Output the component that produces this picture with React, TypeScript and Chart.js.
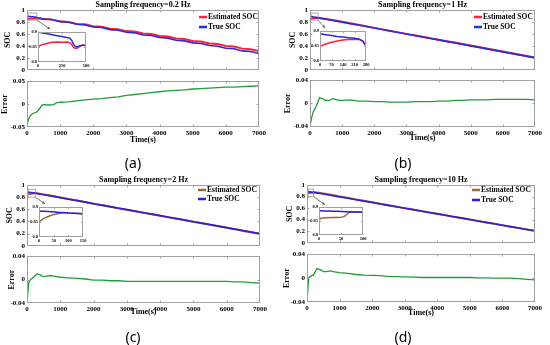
import React, { useEffect, useRef } from "react";
import { Chart, registerables } from "chart.js";
Chart.register(...registerables);

const SERIF = '"Liberation Serif", "Times New Roman", Times, serif';

// ---------------- DATA ----------------
const TIME_SOC = [0, 250, 500, 750, 1000, 1250, 1500, 1750, 2000, 2250, 2500, 2750, 3000, 3250, 3500, 3750, 4000, 4250, 4500, 4750, 5000, 5250, 5500, 5750, 6000, 6250, 6500, 6750, 7000];
const TIME_ERR = [0, 50, 100, 150, 200, 300, 400, 450, 500, 600, 700, 800, 900, 1000, 1250, 1500, 1750, 2000, 2250, 2500, 2750, 3000, 3250, 3500, 3750, 4000, 4250, 4500, 4750, 5000, 5250, 5500, 5750, 6000, 6250, 6500, 6750, 7000];
const TIME_TICKS = [0, 1000, 2000, 3000, 4000, 5000, 6000, 7000];

const SOC_TRUE_A = [0.895, 0.884, 0.850, 0.840, 0.806, 0.796, 0.761, 0.751, 0.717, 0.707, 0.672, 0.662, 0.628, 0.618, 0.583, 0.573, 0.539, 0.529, 0.494, 0.484, 0.450, 0.440, 0.405, 0.395, 0.361, 0.351, 0.316, 0.306, 0.272];
const SOC_EST_A = [0.850, 0.862, 0.850, 0.839, 0.810, 0.801, 0.768, 0.760, 0.728, 0.719, 0.686, 0.678, 0.647, 0.639, 0.606, 0.598, 0.566, 0.558, 0.524, 0.515, 0.483, 0.474, 0.440, 0.431, 0.398, 0.388, 0.354, 0.345, 0.312];
const ERR_A = [-0.046, -0.032, -0.026, -0.022, -0.020, -0.017, -0.008, -0.002, -0.001, -0.002, -0.002, -0.001, 0.003, 0.004, 0.005, 0.007, 0.009, 0.011, 0.012, 0.014, 0.016, 0.019, 0.021, 0.023, 0.025, 0.027, 0.029, 0.030, 0.031, 0.033, 0.034, 0.035, 0.036, 0.037, 0.037, 0.038, 0.039, 0.040];
const INSET_T_A = [0, 50, 100, 150, 200, 250, 300, 330, 350, 370, 390, 410, 430, 460, 500];
const INSET_TRUE_A = [0.899, 0.896, 0.893, 0.890, 0.887, 0.884, 0.881, 0.879, 0.872, 0.858, 0.851, 0.850, 0.853, 0.855, 0.855];
const INSET_EST_A = [0.851, 0.858, 0.862, 0.865, 0.866, 0.865, 0.866, 0.864, 0.858, 0.848, 0.845, 0.846, 0.851, 0.855, 0.855];

const SOC_TRUE_B = [0.895, 0.868, 0.846, 0.822, 0.797, 0.772, 0.748, 0.723, 0.698, 0.673, 0.648, 0.624, 0.599, 0.574, 0.549, 0.524, 0.500, 0.475, 0.450, 0.425, 0.400, 0.375, 0.350, 0.325, 0.300, 0.275, 0.250, 0.225, 0.200];
const SOC_EST_B = [0.855, 0.871, 0.851, 0.829, 0.802, 0.777, 0.752, 0.727, 0.701, 0.676, 0.650, 0.626, 0.601, 0.577, 0.552, 0.527, 0.504, 0.479, 0.455, 0.430, 0.406, 0.381, 0.356, 0.332, 0.307, 0.282, 0.257, 0.232, 0.206];
const ERR_B = [-0.040, -0.025, -0.015, -0.010, -0.004, 0.010, 0.008, 0.006, 0.005, 0.005, 0.008, 0.007, 0.005, 0.005, 0.006, 0.004, 0.004, 0.003, 0.003, 0.002, 0.002, 0.002, 0.003, 0.003, 0.003, 0.004, 0.004, 0.005, 0.005, 0.006, 0.006, 0.006, 0.007, 0.007, 0.007, 0.007, 0.007, 0.006];
const INSET_T_B = [0, 35, 70, 105, 140, 175, 210, 240, 260, 280];
const INSET_TRUE_B = [0.890, 0.887, 0.884, 0.881, 0.879, 0.877, 0.875, 0.872, 0.866, 0.851];
const INSET_EST_B = [0.848, 0.856, 0.862, 0.866, 0.869, 0.871, 0.872, 0.871, 0.866, 0.851];

const SOC_TRUE_C = [0.885, 0.866, 0.841, 0.817, 0.792, 0.767, 0.743, 0.718, 0.693, 0.669, 0.644, 0.619, 0.595, 0.570, 0.545, 0.521, 0.496, 0.471, 0.447, 0.422, 0.397, 0.373, 0.348, 0.323, 0.299, 0.274, 0.249, 0.225, 0.200];
const SOC_EST_C = [0.845, 0.870, 0.846, 0.822, 0.796, 0.770, 0.745, 0.719, 0.692, 0.668, 0.642, 0.617, 0.592, 0.567, 0.542, 0.518, 0.493, 0.468, 0.444, 0.419, 0.394, 0.370, 0.345, 0.320, 0.296, 0.270, 0.245, 0.220, 0.194];
const ERR_C = [-0.040, -0.006, 0.000, 0.002, 0.004, 0.010, 0.008, 0.006, 0.005, 0.006, 0.007, 0.006, 0.005, 0.004, 0.003, 0.002, 0.001, -0.001, -0.001, -0.002, -0.002, -0.003, -0.003, -0.003, -0.003, -0.003, -0.003, -0.003, -0.003, -0.003, -0.003, -0.003, -0.003, -0.003, -0.004, -0.004, -0.005, -0.006];
const INSET_T_C = [0, 10, 20, 30, 40, 50, 60, 70, 80, 90, 100, 120, 150];
const INSET_TRUE_C = [0.886, 0.885, 0.885, 0.884, 0.883, 0.883, 0.882, 0.881, 0.881, 0.880, 0.879, 0.878, 0.877];
const INSET_EST_C = [0.850, 0.857, 0.863, 0.867, 0.871, 0.874, 0.876, 0.878, 0.880, 0.880, 0.879, 0.878, 0.877];

const SOC_TRUE_D = [0.888, 0.868, 0.843, 0.819, 0.794, 0.770, 0.745, 0.721, 0.696, 0.672, 0.647, 0.623, 0.598, 0.574, 0.549, 0.525, 0.500, 0.476, 0.451, 0.427, 0.402, 0.378, 0.353, 0.329, 0.304, 0.280, 0.255, 0.231, 0.206];
const SOC_EST_D = [0.855, 0.874, 0.855, 0.831, 0.803, 0.778, 0.751, 0.726, 0.700, 0.675, 0.650, 0.625, 0.600, 0.575, 0.550, 0.526, 0.501, 0.477, 0.452, 0.428, 0.402, 0.378, 0.353, 0.329, 0.304, 0.279, 0.254, 0.229, 0.203];
const ERR_D = [-0.040, 0.000, 0.003, 0.004, 0.005, 0.016, 0.014, 0.013, 0.011, 0.011, 0.012, 0.011, 0.010, 0.009, 0.008, 0.006, 0.005, 0.0045, 0.004, 0.003, 0.0025, 0.002, 0.0015, 0.001, 0.001, 0.001, 0.001, 0.001, 0.001, 0.001, 0.0005, 0.0005, 0.000, 0.000, 0.000, -0.001, -0.002, -0.003];
const INSET_T_D = [0, 5, 10, 20, 30, 40, 50, 55, 60, 65, 70, 80, 90, 100];
const INSET_TRUE_D = [0.886, 0.886, 0.885, 0.885, 0.884, 0.884, 0.883, 0.883, 0.882, 0.882, 0.882, 0.881, 0.881, 0.880];
const INSET_EST_D = [0.855, 0.859, 0.860, 0.861, 0.862, 0.862, 0.863, 0.864, 0.868, 0.876, 0.881, 0.881, 0.881, 0.880];

const TITLES = ["Sampling frequency=0.2 Hz", "Sampling frequency=1 Hz", "Sampling frequency=2 Hz", "Sampling frequency=10 Hz"];
const PANEL_LABELS = ["(a)", "(b)", "(c)", "(d)"];
const LEGEND_LABELS = ["Estimated SOC", "True SOC"];
const ERR_LIMITS = [0.05, 0.04, 0.04, 0.04];
const INSET_MAX = [500, 280, 150, 100];
const INSET_STEP = [250, 70, 50, 50];
// zoom box [t0, t1, soc0, soc1] and arrow [tFrom, socFrom, tTo, socTo] in data units
const ZOOM_BOX = [[0, 300, 0.83, 0.95], [0, 250, 0.83, 0.95], [0, 250, 0.80, 0.93], [0, 200, 0.80, 0.93]];
const ZOOM_ARROW = [[300, 0.83, 700, 0.68], [250, 0.83, 470, 0.70], [250, 0.80, 540, 0.69], [200, 0.80, 550, 0.66]];

// ---------------- STYLE / LAYOUT ----------------
const RED = "#ff2040";
const BLUE = "#2b2bdc";
const BROWN = "#9a6a30";
const BLUE2 = "#3a1ad6";
const GREEN = "#1f9e3a";
const FRAME = "#a0a0a0";

type R = { x0: number; y0: number; x1: number; y1: number };
type M = { l: number; t: number; r: number; b: number };

const LAYOUT = [
  {
    soc: { x0: 27, y0: 10, x1: 259, y1: 71 }, socM: { l: 26, t: 10, r: 4, b: 5 },
    err: { x0: 27, y0: 80, x1: 259, y1: 127 }, errM: { l: 29, t: 5, r: 12, b: 19 },
    inset: { x0: 38, y0: 31, x1: 86, y1: 62 },
    legendDx: 51, legendDy: [7, 17], label: [133, 163],
    colors: [RED, BLUE],
  },
  {
    soc: { x0: 310, y0: 10, x1: 535, y1: 71 }, socM: { l: 24, t: 10, r: 4, b: 5 },
    err: { x0: 310, y0: 79, x1: 535, y1: 126 }, errM: { l: 29, t: 5, r: 12, b: 17.5 },
    inset: { x0: 320, y0: 30, x1: 366, y1: 61 },
    legendDx: 52, legendDy: [7, 17], label: [403, 163],
    colors: [RED, BLUE],
  },
  {
    soc: { x0: 27, y0: 185, x1: 260, y1: 247 }, socM: { l: 24, t: 10, r: 4, b: 5 },
    err: { x0: 27, y0: 255, x1: 260, y1: 303 }, errM: { l: 22, t: 5, r: 12, b: 15 },
    inset: { x0: 39, y0: 206, x1: 83, y1: 237 },
    legendDx: 53, legendDy: [5, 14], label: [133, 337],
    colors: [BROWN, BLUE2],
  },
  {
    soc: { x0: 307, y0: 185, x1: 535, y1: 244 }, socM: { l: 24, t: 10, r: 4, b: 5 },
    err: { x0: 307, y0: 253, x1: 535, y1: 302 }, errM: { l: 27, t: 5, r: 12, b: 17 },
    inset: { x0: 319, y0: 206, x1: 363, y1: 235 },
    legendDx: 54, legendDy: [5, 15], label: [403, 337],
    colors: [BROWN, BLUE2],
  },
];
const INSET_M: M = { l: 12, t: 3, r: 6, b: 7 };

const DATA = [
  { socT: SOC_TRUE_A, socE: SOC_EST_A, err: ERR_A, iT: INSET_T_A, iTrue: INSET_TRUE_A, iEst: INSET_EST_A },
  { socT: SOC_TRUE_B, socE: SOC_EST_B, err: ERR_B, iT: INSET_T_B, iTrue: INSET_TRUE_B, iEst: INSET_EST_B },
  { socT: SOC_TRUE_C, socE: SOC_EST_C, err: ERR_C, iT: INSET_T_C, iTrue: INSET_TRUE_C, iEst: INSET_EST_C },
  { socT: SOC_TRUE_D, socE: SOC_EST_D, err: ERR_D, iT: INSET_T_D, iTrue: INSET_TRUE_D, iEst: INSET_EST_D },
];

// ---------------- HELPERS ----------------
const fmt = (v: any) => String(Math.round(Number(v) * 1000) / 1000);
const pts = (xs: number[], ys: number[]) => xs.map((x, i) => ({ x, y: ys[i] }));
const font = (size: number) => ({ family: SERIF, size, weight: "bold" as const });
const NOGRID = { display: false, drawTicks: false, tickLength: 0 };

function framePlugin(tickLen: number) {
  return {
    id: "frame",
    afterDraw(chart: any) {
      const { ctx, chartArea: a } = chart;
      const L = Math.round(a.left) + 0.5, T = Math.round(a.top) + 0.5;
      const Rr = Math.round(a.right) - 0.5, B = Math.round(a.bottom) - 0.5;
      ctx.save();
      ctx.strokeStyle = FRAME;
      ctx.lineWidth = 1;
      ctx.strokeRect(L, T, Rr - L, B - T);
      ctx.beginPath();
      const xs = chart.scales.x, ys = chart.scales.y;
      xs.ticks.forEach((t: any) => {
        const p = Math.round(xs.getPixelForValue(t.value)) + 0.5;
        if (p <= L + 1 || p >= Rr - 1) return;
        ctx.moveTo(p, B); ctx.lineTo(p, B - tickLen);
        ctx.moveTo(p, T); ctx.lineTo(p, T + tickLen);
      });
      ys.ticks.forEach((t: any) => {
        const p = Math.round(ys.getPixelForValue(t.value)) + 0.5;
        if (p <= T + 1 || p >= B - 1) return;
        ctx.moveTo(L, p); ctx.lineTo(L + tickLen, p);
        ctx.moveTo(Rr, p); ctx.lineTo(Rr - tickLen, p);
      });
      ctx.stroke();
      ctx.restore();
    },
  };
}

const whiteBg = {
  id: "whiteBg",
  beforeDraw(chart: any) {
    const { ctx, chartArea: a } = chart;
    ctx.save();
    ctx.fillStyle = "#fff";
    ctx.fillRect(a.left, a.top, a.right - a.left, a.bottom - a.top);
    ctx.restore();
  },
};

function socDecor(i: number) {
  const lay = LAYOUT[i];
  return {
    id: "socDecor",
    afterDatasetsDraw(chart: any) {
      const { ctx, chartArea: a, scales } = chart;
      const x = scales.x, y = scales.y;
      ctx.save();
      // title
      ctx.fillStyle = "#000";
      ctx.font = `bold 8px ${SERIF}`;
      ctx.textAlign = "center";
      ctx.textBaseline = "middle";
      ctx.fillText(TITLES[i], (a.left + a.right) / 2, a.top - 5);
      // legend
      ctx.font = `bold 7.5px ${SERIF}`;
      ctx.textAlign = "left";
      const tx = a.right - lay.legendDx;
      LEGEND_LABELS.forEach((lab, k) => {
        const yy = a.top + lay.legendDy[k];
        ctx.strokeStyle = lay.colors[k];
        ctx.lineWidth = 2.5;
        ctx.beginPath();
        ctx.moveTo(tx - 9, yy);
        ctx.lineTo(tx - 1, yy);
        ctx.stroke();
        ctx.fillStyle = "#000";
        ctx.fillText(lab, tx, yy + 0.5);
      });
      // zoom box + arrow
      const [t0, t1, s0, s1] = ZOOM_BOX[i];
      ctx.strokeStyle = "#8a8a8a";
      ctx.lineWidth = 0.7;
      const bx0 = x.getPixelForValue(t0) + 1, bx1 = x.getPixelForValue(t1);
      const by0 = y.getPixelForValue(s1), by1 = y.getPixelForValue(s0);
      ctx.strokeRect(bx0, by0, bx1 - bx0, by1 - by0);
      const [ft, fs, tt, ts] = ZOOM_ARROW[i];
      const ax0 = x.getPixelForValue(ft), ay0 = y.getPixelForValue(fs);
      const ax1 = x.getPixelForValue(tt), ay1 = y.getPixelForValue(ts);
      ctx.strokeStyle = "#555";
      ctx.fillStyle = "#555";
      ctx.lineWidth = 0.8;
      ctx.beginPath();
      ctx.moveTo(ax0, ay0);
      ctx.lineTo(ax1, ay1);
      ctx.stroke();
      const ang = Math.atan2(ay1 - ay0, ax1 - ax0);
      const h = 3;
      ctx.beginPath();
      ctx.moveTo(ax1, ay1);
      ctx.lineTo(ax1 - h * Math.cos(ang - 0.45), ay1 - h * Math.sin(ang - 0.45));
      ctx.lineTo(ax1 - h * Math.cos(ang + 0.45), ay1 - h * Math.sin(ang + 0.45));
      ctx.closePath();
      ctx.fill();
      ctx.restore();
    },
  };
}

const baseOpts = (m: M) => ({
  animation: false,
  responsive: false,
  devicePixelRatio: 1,
  events: [],
  layout: { padding: { left: 0, top: m.t, right: m.r, bottom: 0 } },
  plugins: { legend: { display: false }, tooltip: { enabled: false }, title: { display: false } },
});

function socConfig(i: number): any {
  const d = DATA[i], lay = LAYOUT[i], m = lay.socM;
  return {
    type: "line",
    data: {
      datasets: [
        { label: LEGEND_LABELS[0], data: pts(TIME_SOC, d.socE), borderColor: lay.colors[0], borderWidth: 2, pointRadius: 0, tension: 0, order: 2 },
        { label: LEGEND_LABELS[1], data: pts(TIME_SOC, d.socT), borderColor: lay.colors[1], borderWidth: 1.6, pointRadius: 0, tension: 0, order: 1 },
      ],
    },
    options: {
      ...baseOpts(m),
      scales: {
        x: {
          type: "linear", min: 0, max: 7000,
          afterBuildTicks: (s: any) => { s.ticks = TIME_TICKS.map((v) => ({ value: v })); },
          ticks: { display: false },
          grid: NOGRID, border: { display: false },
          afterFit: (s: any) => { s.height = m.b; },
        },
        y: {
          type: "linear", min: 0, max: 1,
          ticks: { stepSize: 0.2, autoSkip: false, padding: 2, color: "#000", font: font(7), callback: fmt },
          grid: NOGRID, border: { display: false },
          title: { display: true, text: "SOC", color: "#000", font: font(8), padding: { top: 2, bottom: 0 } },
          afterFit: (s: any) => { s.width = m.l; },
        },
      },
    },
    plugins: [socDecor(i), framePlugin(2)],
  };
}

function errConfig(i: number): any {
  const d = DATA[i], m = LAYOUT[i].errM;
  const lim = ERR_LIMITS[i];
  return {
    type: "line",
    data: {
      datasets: [
        { label: "Error", data: pts(TIME_ERR, d.err), borderColor: GREEN, borderWidth: 1.3, pointRadius: 0, tension: 0 },
      ],
    },
    options: {
      ...baseOpts(m),
      scales: {
        x: {
          type: "linear", min: 0, max: 7000,
          afterBuildTicks: (s: any) => { s.ticks = TIME_TICKS.map((v) => ({ value: v })); },
          ticks: { autoSkip: false, maxRotation: 0, padding: 2, color: "#000", font: font(7), callback: fmt },
          grid: NOGRID, border: { display: false },
          title: { display: true, text: "Time(s)", color: "#000", font: font(8), padding: { top: 0, bottom: 1 } },
          afterFit: (s: any) => { s.height = m.b; },
        },
        y: {
          type: "linear", min: -lim, max: lim,
          afterBuildTicks: (s: any) => { s.ticks = [-lim, 0, lim].map((v) => ({ value: v })); },
          ticks: { autoSkip: false, padding: 2, color: "#000", font: font(7), callback: fmt },
          grid: NOGRID, border: { display: false },
          title: { display: true, text: "Error", color: "#000", font: font(8), padding: { top: 2, bottom: 0 } },
          afterFit: (s: any) => { s.width = m.l; },
        },
      },
    },
    plugins: [framePlugin(2)],
  };
}

function insetConfig(i: number): any {
  const d = DATA[i], lay = LAYOUT[i], m = INSET_M;
  const mx = INSET_MAX[i], st = INSET_STEP[i];
  const xt: number[] = [];
  for (let v = 0; v <= mx + 1e-9; v += st) xt.push(v);
  return {
    type: "line",
    data: {
      datasets: [
        { data: pts(d.iT, d.iEst), borderColor: lay.colors[0], borderWidth: 1.5, pointRadius: 0, tension: 0, order: 2 },
        { data: pts(d.iT, d.iTrue), borderColor: lay.colors[1], borderWidth: 1.5, pointRadius: 0, tension: 0, order: 1 },
      ],
    },
    options: {
      ...baseOpts(m),
      scales: {
        x: {
          type: "linear", min: 0, max: mx,
          afterBuildTicks: (s: any) => { s.ticks = xt.map((v) => ({ value: v })); },
          ticks: { autoSkip: false, maxRotation: 0, padding: 1, color: "#000", font: font(4.5), callback: fmt },
          grid: NOGRID, border: { display: false },
          afterFit: (s: any) => { s.height = m.b; },
        },
        y: {
          type: "linear", min: 0.8, max: 0.9,
          afterBuildTicks: (s: any) => { s.ticks = [0.8, 0.85, 0.9].map((v) => ({ value: v })); },
          ticks: { autoSkip: false, padding: 1, color: "#000", font: font(4.5), callback: fmt },
          grid: NOGRID, border: { display: false },
          afterFit: (s: any) => { s.width = m.l; },
        },
      },
    },
    plugins: [whiteBg, framePlugin(1.5)],
  };
}

// ---------------- COMPONENTS ----------------
function ChartCanvas({ rect, m, make }: { rect: R; m: M; make: () => any }) {
  const ref = useRef<HTMLCanvasElement>(null);
  const left = rect.x0 - m.l;
  const top = rect.y0 - m.t;
  const width = Math.round(rect.x1 - rect.x0 + m.l + m.r);
  const height = Math.round(rect.y1 - rect.y0 + m.t + m.b);
  useEffect(() => {
    const chart = new Chart(ref.current as HTMLCanvasElement, make());
    return () => chart.destroy();
  }, []);
  return (
    <canvas
      ref={ref}
      width={width}
      height={height}
      style={{ position: "absolute", left, top, width, height, display: "block" }}
    />
  );
}

export default function App() {
  return (
    <div style={{ position: "absolute", left: 0, top: 0, width: 550, height: 345, background: "#fff", overflow: "hidden" }}>
      {LAYOUT.map((lay, i) => (
        <React.Fragment key={i}>
          <ChartCanvas rect={lay.soc} m={lay.socM} make={() => socConfig(i)} />
          <ChartCanvas rect={lay.err} m={lay.errM} make={() => errConfig(i)} />
          <ChartCanvas rect={lay.inset} m={INSET_M} make={() => insetConfig(i)} />
          <div
            style={{
              position: "absolute",
              left: lay.label[0],
              top: lay.label[1],
              transform: "translate(-50%, -50%)",
              font: '14px "Noto Sans", "Open Sans", sans-serif',
              color: "#000",
              lineHeight: 1,
              whiteSpace: "nowrap",
            }}
          >
            {PANEL_LABELS[i]}
          </div>
        </React.Fragment>
      ))}
    </div>
  );
}
